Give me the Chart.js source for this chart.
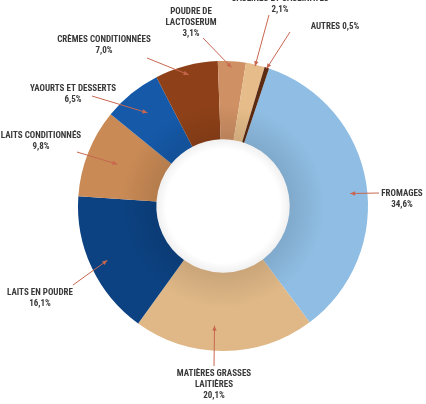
<!DOCTYPE html>
<html>
<head>
<meta charset="utf-8">
<script src="https://cdn.jsdelivr.net/npm/chart.js@4"></script>
<style>
  html, body { margin: 0; padding: 0; background: #ffffff; }
  #wrap { width: 426px; height: 404px; }
</style>
</head>
<body>
<div id="wrap"><canvas id="c" width="426" height="404"></canvas></div>
<script>
// ---- data ----
const categories = ['FROMAGES', 'MATIÈRES GRASSES LAITIÈRES', 'LAITS EN POUDRE', 'LAITS CONDITIONNÉS',
  'YAOURTS ET DESSERTS', 'CRÈMES CONDITIONNÉES', 'POUDRE DE LACTOSERUM', 'CASÉINES ET CASÉINATES', 'AUTRES'];
const shares = [34.6, 20.1, 16.1, 9.8, 6.5, 7.0, 3.1, 2.1, 0.5];
const labelLines = [
  ['FROMAGES'], ['MATIÈRES GRASSES', 'LAITIÈRES'], ['LAITS EN POUDRE'], ['LAITS CONDITIONNÉS'],
  ['YAOURTS ET DESSERTS'], ['CRÈMES CONDITIONNÉES'], ['POUDRE DE', 'LACTOSERUM'], ['CASÉINES ET CASÉINATES'], ['AUTRES']
];
const inlinePct = [false, false, false, false, false, false, false, false, true];

// ---- styles ----
const colors = ['#8fbde3', '#e0b887', '#0c4282', '#c98a55', '#1559a8', '#8e4118', '#cf9064', '#e6bd8a', '#5a2a12'];
const arrowColor = '#c8664f';
const textColor = '#3a3a3a';
const FONT = 'bold 9px "Liberation Sans Narrow", "Roboto Condensed", "Liberation Sans", Arial, sans-serif';
const LINE_H = 11;
// label layout: centre x, first line y, arrow start, tip radius fraction (0=inner,1=outer), angle offset (deg)
const labelLayout = [
  { x: 402, y: 194, sx: 379, sy: 193, tr: 0.78, da: 3.5 },
  { x: 214, y: 374, sx: 214, sy: 366, tr: 0.68, da: 4.5 },
  { x: 40,  y: 293, sx: 73,  sy: 285, tr: 0.78, da: 0 },
  { x: 41,  y: 136, sx: 77,  sy: 152, tr: 0.60, da: 0 },
  { x: 73,  y: 89,  sx: 92,  sy: 96,  tr: 0.68, da: 0 },
  { x: 104, y: 40,  sx: 147, sy: 58,  tr: 0.88, da: 0 },
  { x: 191, y: 12,  sx: 203, sy: 38,  tr: 0.92, da: 0 },
  { x: 280, y: -1,  sx: 269, sy: 15,  tr: 0.98, da: 0 },
  { x: 335, y: 27,  sx: 290, sy: 32,  tr: 0.99, da: 0 }
];

function pctText(v) { return v.toFixed(1).replace('.', ',') + '%'; }

const labelsPlugin = {
  id: 'labelsPlugin',
  afterDatasetsDraw(chart) {
    const ctx = chart.ctx;
    const meta = chart.getDatasetMeta(0);
    const a0 = meta.data[0];
    const cx = a0.x, cy = a0.y, ir = a0.innerRadius, or = a0.outerRadius;

    // inner shading of ring
    ctx.save();
    let g = ctx.createRadialGradient(cx, cy, ir, cx, cy, ir + 35);
    g.addColorStop(0, 'rgba(0,0,0,0.10)');
    g.addColorStop(1, 'rgba(0,0,0,0)');
    ctx.beginPath();
    ctx.arc(cx, cy, or, 0, Math.PI * 2);
    ctx.arc(cx, cy, ir, 0, Math.PI * 2, true);
    ctx.fillStyle = g;
    ctx.fill('evenodd');
    // hole rim shading
    g = ctx.createRadialGradient(cx, cy, ir * 0.85, cx, cy, ir);
    g.addColorStop(0, 'rgba(0,0,0,0)');
    g.addColorStop(1, 'rgba(0,0,0,0.06)');
    ctx.beginPath();
    ctx.arc(cx, cy, ir, 0, Math.PI * 2);
    ctx.fillStyle = g;
    ctx.fill();
    ctx.restore();

    ctx.save();
    meta.data.forEach((arc, i) => {
      const L = labelLayout[i];
      const mid = (arc.startAngle + arc.endAngle) / 2 + L.da * Math.PI / 180;
      const r = ir + (or - ir) * L.tr;
      const tx = cx + Math.cos(mid) * r, ty = cy + Math.sin(mid) * r;
      // arrow line
      ctx.strokeStyle = arrowColor;
      ctx.fillStyle = arrowColor;
      ctx.lineWidth = 1;
      ctx.beginPath();
      ctx.moveTo(L.sx, L.sy);
      ctx.lineTo(tx, ty);
      ctx.stroke();
      const ang = Math.atan2(ty - L.sy, tx - L.sx);
      const hs = 5;
      ctx.beginPath();
      ctx.moveTo(tx, ty);
      ctx.lineTo(tx - hs * Math.cos(ang) + 2.2 * Math.sin(ang), ty - hs * Math.sin(ang) - 2.2 * Math.cos(ang));
      ctx.lineTo(tx - hs * Math.cos(ang) - 2.2 * Math.sin(ang), ty - hs * Math.sin(ang) + 2.2 * Math.cos(ang));
      ctx.closePath();
      ctx.fill();
      // text
      ctx.fillStyle = textColor;
      ctx.font = FONT;
      ctx.textAlign = 'center';
      ctx.textBaseline = 'middle';
      const lines = labelLines[i].slice();
      if (inlinePct[i]) lines[lines.length - 1] += ' ' + pctText(shares[i]);
      else lines.push(pctText(shares[i]));
      lines.forEach((t, k) => ctx.fillText(t, L.x, L.y + k * LINE_H));
    });
    ctx.restore();
  }
};

new Chart(document.getElementById('c'), {
  type: 'doughnut',
  data: {
    labels: categories,
    datasets: [{
      data: shares,
      backgroundColor: colors,
      borderWidth: 0
    }]
  },
  options: {
    responsive: false,
    animation: false,
    rotation: 18.5,
    cutout: '46%',
    layout: { padding: { top: 61, bottom: 53, left: 78, right: 58 } },
    plugins: { legend: { display: false }, tooltip: { enabled: false } }
  },
  plugins: [labelsPlugin]
});
</script>
</body>
</html>
